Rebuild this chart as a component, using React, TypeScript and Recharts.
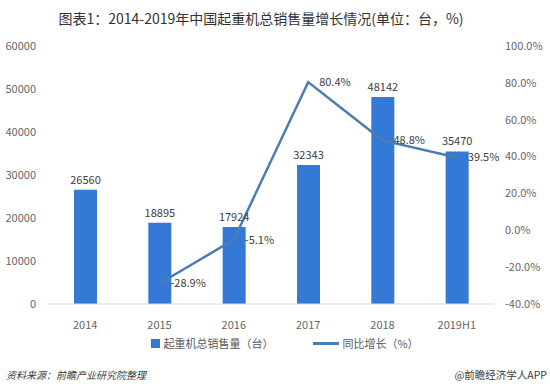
import React from 'react';
import { ComposedChart, Bar, Line, XAxis, YAxis, LabelList } from 'recharts';

const years = ['2014', '2015', '2016', '2017', '2018', '2019H1'];
const salesUnits = [26560, 18895, 17924, 32343, 48142, 35470];
const growthPct = [null, -28.9, -5.1, 80.4, 48.8, 39.5];
const leftTicks = [0, 10000, 20000, 30000, 40000, 50000, 60000];
const rightTicks = [-40, -20, 0, 20, 40, 60, 80, 100];

const rows = years.map((year, i) => ({ year, sales: salesUnits[i], growth: growthPct[i] }));

const BAR = '#3479d6';
const LINE = '#4a7db6';
const FONT = '"Noto Sans CJK SC", "Noto Sans", sans-serif';
const tickStyle = { fontSize: 11, fill: '#666666', fontFamily: FONT };

export default function App() {
  return (
    <div style={{ position: 'absolute', left: 0, top: 0, width: 550, height: 392, background: '#fff', fontFamily: FONT }}>
      <div
        style={{
          position: 'absolute',
          top: 8,
          left: 0,
          width: 522,
          textAlign: 'center',
          fontSize: 14,
          fontWeight: 400,
          color: '#333333',
        }}
      >
        图表1：2014-2019年中国起重机总销售量增长情况(单位：台，%)
      </div>

      <ComposedChart
        width={550}
        height={392}
        data={rows}
        margin={{ top: 46, right: 0, bottom: 58, left: 0 }}
        style={{ position: 'absolute', left: 0, top: 0 }}
      >
        <XAxis
          dataKey="year"
          height={30}
          tickLine={false}
          axisLine={{ stroke: '#d9d9d9' }}
          tickMargin={11}
          tick={tickStyle}
          interval={0}
        />
        <YAxis
          yAxisId="left"
          width={48}
          domain={[0, 60000]}
          ticks={leftTicks}
          axisLine={false}
          tickLine={false}
          tickSize={0}
          tickMargin={12}
          tick={tickStyle}
        />
        <YAxis
          yAxisId="right"
          orientation="right"
          width={56}
          domain={[-40, 100]}
          ticks={rightTicks}
          axisLine={false}
          tickLine={false}
          tickSize={0}
          tickMargin={11}
          tick={{ ...tickStyle, textAnchor: 'start' }}
          tickFormatter={(v: number) => `${v.toFixed(1)}%`}
        />
        <Line
          yAxisId="right"
          dataKey="growth"
          stroke={LINE}
          strokeWidth={2.5}
          dot={false}
          isAnimationActive={false}
        >
          <LabelList
            dataKey="growth"
            position="right"
            offset={11}
            style={{ fontSize: 11, fill: '#404040', fontFamily: FONT }}
            formatter={(v: number) => (v == null ? '' : `${v.toFixed(1)}%`)}
          />
        </Line>
        <Bar yAxisId="left" dataKey="sales" fill={BAR} barSize={23} isAnimationActive={false}>
          <LabelList
            dataKey="sales"
            position="top"
            offset={6}
            style={{ fontSize: 11, fill: '#404040', fontFamily: FONT }}
          />
        </Bar>
      </ComposedChart>

      <div
        style={{
          position: 'absolute',
          top: 335,
          left: 10,
          width: 550,
          display: 'flex',
          justifyContent: 'center',
          alignItems: 'center',
          gap: 40,
          fontSize: 11,
          color: '#595959',
        }}
      >
        <span style={{ display: 'flex', alignItems: 'center' }}>
          <span style={{ display: 'inline-block', width: 9, height: 9, background: BAR, marginRight: 3 }} />
          起重机总销售量（台）
        </span>
        <span style={{ display: 'flex', alignItems: 'center' }}>
          <span style={{ display: 'inline-block', width: 26, height: 3, background: LINE, marginRight: 3 }} />
          同比增长（%）
        </span>
      </div>

      <div style={{ position: 'absolute', top: 367, left: 6, fontSize: 10, fontStyle: 'italic', color: '#404040' }}>
        资料来源：前瞻产业研究院整理
      </div>
      <div style={{ position: 'absolute', top: 367, right: 3, fontSize: 10.5, color: '#404040' }}>
        @前瞻经济学人APP
      </div>
    </div>
  );
}
